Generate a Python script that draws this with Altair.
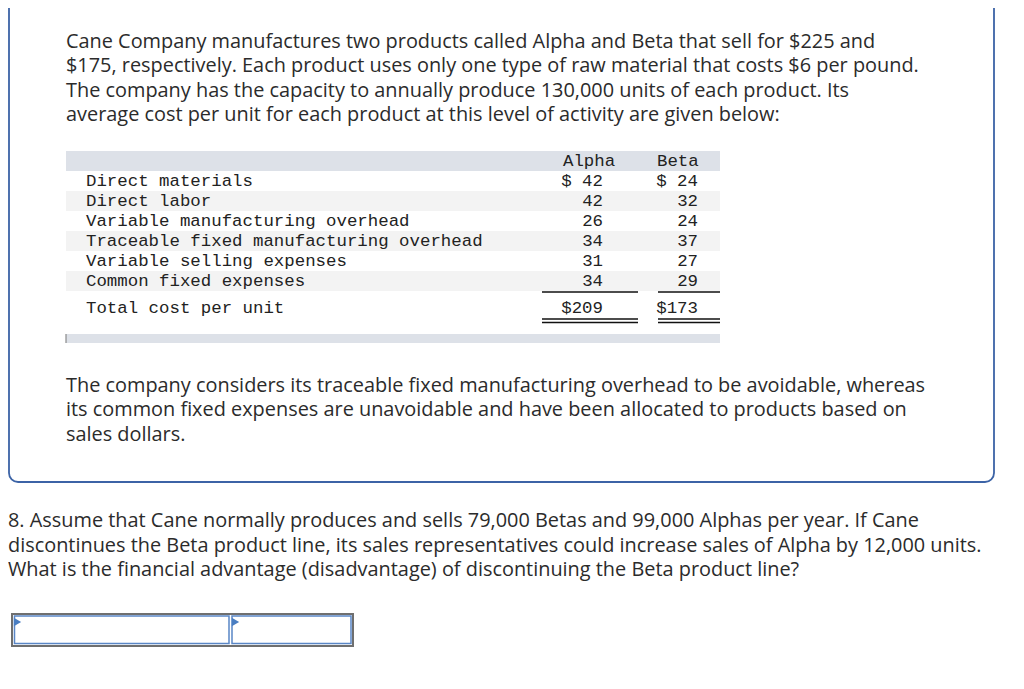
import altair as alt
import pandas as pd

# ---------------- content ----------------
intro_lines = [
    "Cane Company manufactures two products called Alpha and Beta that sell for $225 and",
    "$175, respectively. Each product uses only one type of raw material that costs $6 per pound.",
    "The company has the capacity to annually produce 130,000 units of each product. Its",
    "average cost per unit for each product at this level of activity are given below:",
]
note_lines = [
    "The company considers its traceable fixed manufacturing overhead to be avoidable, whereas",
    "its common fixed expenses are unavoidable and have been allocated to products based on",
    "sales dollars.",
]
question_lines = [
    "8. Assume that Cane normally produces and sells 79,000 Betas and 99,000 Alphas per year. If Cane",
    "discontinues the Beta product line, its sales representatives could increase sales of Alpha by 12,000 units.",
    "What is the financial advantage (disadvantage) of discontinuing the Beta product line?",
]
products = ["Alpha", "Beta"]
cost_items = [
    "Direct materials",
    "Direct labor",
    "Variable manufacturing overhead",
    "Traceable fixed manufacturing overhead",
    "Variable selling expenses",
    "Common fixed expenses",
]
alpha_costs = [42, 42, 26, 34, 31, 34]
beta_costs = [24, 32, 24, 37, 27, 29]
total_label = "Total cost per unit"

# ---------------- layout (page pixels) ----------------
W, H = 1008, 673
X0, Y0 = 8, 8
xs = alt.Scale(domain=[X0, X0 + W], range=[0, W], zero=False, nice=False)
ys = alt.Scale(domain=[Y0, Y0 + H], range=[0, H], zero=False, nice=False)

PARA_X = 66
PARA_FONT = "Open Sans"
PARA_SIZE = 19.9
PARA_COLOR = "#2b2b2b"
LINE_H = 24.5
MONO = "Liberation Mono"
MONO_SIZE = 17.4
TEXT_DARK = "#222222"

tbl_left, tbl_right = 66, 720
hdr_top, row_h = 151, 20
label_x = 86
col_right = [603, 698]
col_left = [563, 657]
rule_spans = [(542, 638), (658, 720)]

def X(f):
    return alt.X(f, type="quantitative", scale=xs, axis=None)

def Y(f):
    return alt.Y(f, type="quantitative", scale=ys, axis=None)

# outer rounded box
box = pd.DataFrame([{"x": 9, "x2": 994, "y": -30, "y2": 482}])
box_layer = alt.Chart(box).mark_rect(
    cornerRadius=9, fill="white", stroke="#3c63a6", strokeWidth=1.8
).encode(x=X("x"), x2="x2", y=Y("y"), y2="y2")

# table backgrounds
bg_rows = [{"x": tbl_left, "x2": tbl_right, "y": hdr_top, "y2": hdr_top + row_h, "c": "#dde1e8"}]
for i in range(len(cost_items)):
    top = hdr_top + row_h * (i + 1)
    bg_rows.append({"x": tbl_left, "x2": tbl_right, "y": top, "y2": top + row_h,
                    "c": "#ffffff" if i % 2 == 0 else "#f3f3f3"})
bg_rows.append({"x": tbl_left, "x2": tbl_right, "y": 334, "y2": 343, "c": "#dde1e8"})
bg = pd.DataFrame(bg_rows)
bg_layer = alt.Chart(bg).mark_rect().encode(
    x=X("x"), x2="x2", y=Y("y"), y2="y2", color=alt.Color("c:N", scale=None)
)
tick = pd.DataFrame([{"x": 66, "y": 334, "y2": 343}])
tick_layer = alt.Chart(tick).mark_rule(color="#8a8a8a", strokeWidth=1.2).encode(
    x=X("x"), y=Y("y"), y2="y2"
)

# underline rules
rules = []
for (a, b) in rule_spans:
    rules.append({"x": a, "x2": b, "y": 292})
    rules.append({"x": a, "x2": b, "y": 319})
    rules.append({"x": a, "x2": b, "y": 322.5})
rules_df = pd.DataFrame(rules)
rule_layer = alt.Chart(rules_df).mark_rule(color="#111111", strokeWidth=1.6).encode(
    x=X("x"), x2="x2", y=Y("y")
)

# paragraph text
para = []
for i, t in enumerate(intro_lines):
    para.append({"x": PARA_X, "y": 41.5 + LINE_H * i, "t": t})
for i, t in enumerate(note_lines):
    para.append({"x": PARA_X, "y": 385.5 + LINE_H * i, "t": t})
for i, t in enumerate(question_lines):
    para.append({"x": 8, "y": 521 + LINE_H * i, "t": t})
para_df = pd.DataFrame(para)
para_layer = alt.Chart(para_df).mark_text(
    align="left", baseline="middle", font=PARA_FONT, fontSize=PARA_SIZE, color=PARA_COLOR
).encode(x=X("x"), y=Y("y"), text="t:N")

# table labels
lab = [{"x": label_x, "y": hdr_top + row_h * (i + 1.5), "t": t} for i, t in enumerate(cost_items)]
lab.append({"x": label_x, "y": 308, "t": total_label})
lab_df = pd.DataFrame(lab)
lab_layer = alt.Chart(lab_df).mark_text(
    align="left", baseline="middle", font=MONO, fontSize=MONO_SIZE, color=TEXT_DARK
).encode(x=X("x"), y=Y("y"), text="t:N")

# header
hdr_df = pd.DataFrame([{"x": col_left[j], "y": hdr_top + row_h * 0.5, "t": p} for j, p in enumerate(products)])
hdr_layer = alt.Chart(hdr_df).mark_text(
    align="left", baseline="middle", font=MONO, fontSize=MONO_SIZE, color=TEXT_DARK
).encode(x=X("x"), y=Y("y"), text="t:N")

# values
vals = []
for j, series in enumerate([alpha_costs, beta_costs]):
    for i, v in enumerate(series):
        txt = f"$ {v}" if i == 0 else f"{v}"
        vals.append({"x": col_right[j], "y": hdr_top + row_h * (i + 1.5), "t": txt})
    vals.append({"x": col_right[j], "y": 308, "t": f"${sum(series)}"})
vals_df = pd.DataFrame(vals)
vals_layer = alt.Chart(vals_df).mark_text(
    align="right", baseline="middle", font=MONO, fontSize=MONO_SIZE, color=TEXT_DARK
).encode(x=X("x"), y=Y("y"), text="t:N")

# answer input boxes
outer = pd.DataFrame([{"x": 12, "x2": 353, "y": 614, "y2": 646}])
outer_layer = alt.Chart(outer).mark_rect(
    fill="white", stroke="#6f6f6f", strokeWidth=2
).encode(x=X("x"), x2="x2", y=Y("y"), y2="y2")
cells = pd.DataFrame([
    {"x": 14.5, "x2": 229, "y": 616, "y2": 643.5},
    {"x": 232, "x2": 351, "y": 616, "y2": 643.5},
])
cells_layer = alt.Chart(cells).mark_rect(
    fill="white", stroke="#5a86c6", strokeWidth=1.5
).encode(x=X("x"), x2="x2", y=Y("y"), y2="y2")
tri = pd.DataFrame([{"x": 17.5, "y": 622}, {"x": 235.5, "y": 622}])
tri_layer = alt.Chart(tri).mark_point(
    shape="triangle-right", filled=True, size=70, color="#4a7ec2", opacity=1
).encode(x=X("x"), y=Y("y"))

chart = alt.layer(
    box_layer, bg_layer, tick_layer, rule_layer, para_layer, lab_layer, hdr_layer,
    vals_layer, outer_layer, cells_layer, tri_layer
).properties(
    width=W, height=H, autosize=alt.AutoSizeParams(type="none"), padding=0,
    background="white"
).configure_view(strokeWidth=0)

chart.save("out.html", embed_options={"renderer": "svg", "actions": False})
